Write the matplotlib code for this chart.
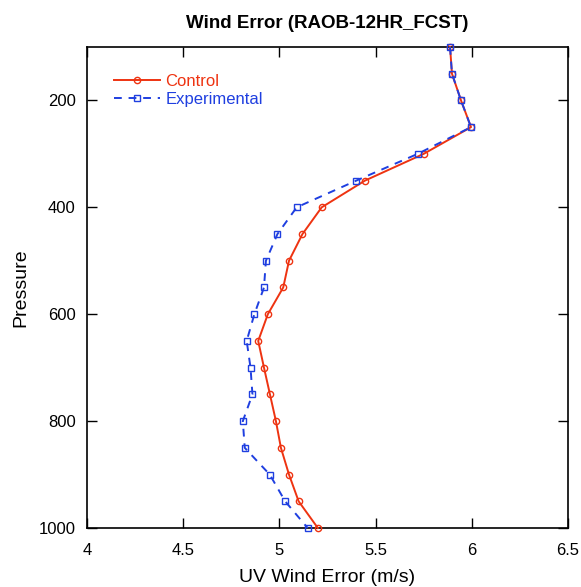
import matplotlib
matplotlib.use('Agg')
from matplotlib import pyplot as plt

# pressure levels (hPa) and UV wind error (m/s)
pressure = [100, 150, 200, 250, 300, 350, 400, 450, 500, 550,
            600, 650, 700, 750, 800, 850, 900, 950, 1000]
control = [5.887, 5.897, 5.944, 5.996, 5.75, 5.445, 5.22, 5.12, 5.05, 5.02,
           4.94, 4.89, 4.92, 4.951, 4.982, 5.008, 5.05, 5.10, 5.20]
experimental = [5.887, 5.897, 5.944, 5.996, 5.719, 5.40, 5.09, 4.99, 4.93, 4.92,
                4.87, 4.83, 4.85, 4.86, 4.81, 4.82, 4.95, 5.03, 5.147]

plt.rcParams['font.family'] = ['Liberation Sans', 'DejaVu Sans']

fig = plt.figure(figsize=(5.81, 5.87), dpi=100)
ax = fig.add_axes([0.1497, 0.1005, 0.8279, 0.8195])

ax.plot(control, pressure, c='#ee3311', ls='-', lw=1.4, marker='o', ms=4.5,
        mfc='none', mec='#ee3311', mew=1, label='Control', clip_on=False, zorder=3)
ax.plot(experimental, pressure, c='#1f3fe0', ls=(0, (4, 3.5)), lw=1.4, marker='s', ms=4.5,
        mfc='none', mec='#1f3fe0', mew=1, label='Experimental', clip_on=False, zorder=3)

ax.set_xlim(4, 6.5)
ax.set_ylim(1000, 100)
ax.set_xticks([4, 4.5, 5, 5.5, 6, 6.5])
ax.set_xticklabels(['4', '4.5', '5', '5.5', '6', '6.5'])
ax.set_yticks([200, 400, 600, 800, 1000])
ax.tick_params(direction='in', top=True, right=True, length=7, width=1,
               labelsize=12, pad=8)
ax.tick_params(axis='x', pad=11)
for s in ax.spines.values():
    s.set_linewidth(1.2)

ax.set_title('Wind Error (RAOB-12HR_FCST)', fontsize=13.5, fontweight='bold', pad=14)
ax.set_xlabel('UV Wind Error (m/s)', fontsize=14, labelpad=8)
ax.set_ylabel('Pressure', fontsize=14, labelpad=7)

leg = ax.legend(loc='upper left', frameon=False, fontsize=12, handlelength=2.8,
                borderaxespad=1.2, handletextpad=0.3, labelspacing=0.2)
for txt, col in zip(leg.get_texts(), ['#ee3311', '#1f3fe0']):
    txt.set_color(col)

fig.savefig('out.png', dpi=100)
